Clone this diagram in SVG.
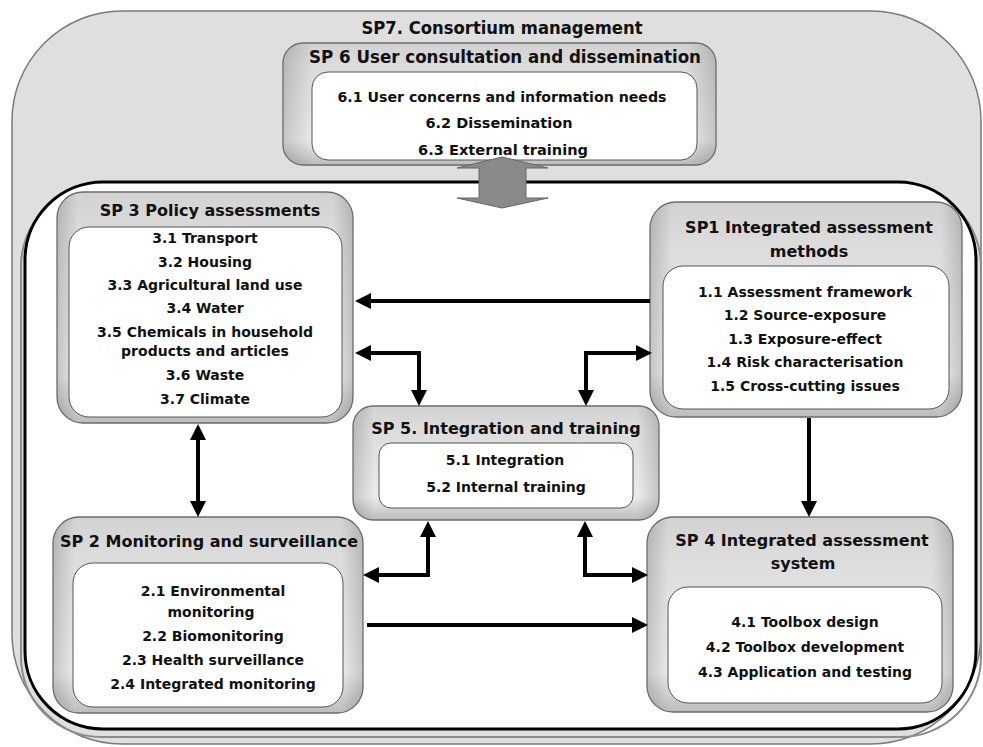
<svg xmlns="http://www.w3.org/2000/svg" width="983" height="747" viewBox="0 0 983 747">
<defs>
<linearGradient id="gv" x1="0" y1="0" x2="0" y2="1">
<stop offset="0" stop-color="#d2d2d2"/>
<stop offset="0.2" stop-color="#dcdcdc"/>
<stop offset="0.8" stop-color="#ebebeb"/>
<stop offset="1" stop-color="#bcbcbc"/>
</linearGradient>
<linearGradient id="gh" x1="0" y1="0" x2="1" y2="0">
<stop offset="0" stop-color="#000" stop-opacity="0.16"/>
<stop offset="0.07" stop-color="#000" stop-opacity="0"/>
<stop offset="0.93" stop-color="#000" stop-opacity="0"/>
<stop offset="1" stop-color="#000" stop-opacity="0.16"/>
</linearGradient>
<marker id="ah" viewBox="0 0 16 16" refX="6" refY="8" markerWidth="16" markerHeight="16" markerUnits="userSpaceOnUse" orient="auto-start-reverse">
<path d="M0,0 L16,8 L0,16 z" fill="#000"/>
</marker>
<style>
.ob{fill:url(#gv);stroke:none}
.ov{fill:url(#gh);stroke:#6b6b6b;stroke-width:1.3}
.ib{fill:#fff;stroke:#555;stroke-width:1}
text{font-family:"DejaVu Sans","Verdana",sans-serif;font-weight:bold;fill:#111;text-anchor:middle}
.t{font-size:16px}
.i{font-size:14px}
.c{font-family:"DejaVu Sans Condensed","Liberation Sans Narrow","DejaVu Sans",sans-serif;font-stretch:condensed}
.ct{font-size:17px}
.ci{font-size:14px}
.ln{fill:none;stroke:#000;stroke-width:4}
</style>
</defs>

<g id="sp7">
<rect x="12" y="11" width="969" height="733" rx="110" ry="110" fill="#dfdfdf" stroke="#7a7a7a" stroke-width="1.5"/>
<text class="c ct" x="502" y="34" textLength="281" lengthAdjust="spacingAndGlyphs">SP7.  Consortium management</text>
</g>

<g id="main-area">
<rect x="21" y="186" width="960" height="551" rx="80" ry="80" fill="none" stroke="#8c8c8c" stroke-width="2"/>
<rect x="25" y="182" width="951" height="547" rx="78" ry="78" fill="#fff" stroke="#000" stroke-width="3"/>
</g>

<g id="sp6">
<rect class="ob" x="283" y="43" width="433" height="122" rx="20"/>
<rect class="ov" x="283" y="43" width="433" height="122" rx="20"/>
<rect class="ib" x="312" y="72" width="385" height="88" rx="16"/>
<text class="c ct" x="505" y="63" textLength="392" lengthAdjust="spacingAndGlyphs">SP 6  User consultation and dissemination</text>
<text class="c ci" x="502" y="102" textLength="329" lengthAdjust="spacingAndGlyphs">6.1 User concerns and information needs</text>
<text class="c ci" x="499" y="128" textLength="147" lengthAdjust="spacingAndGlyphs">6.2 Dissemination</text>
<text class="c ci" x="503" y="155" textLength="170" lengthAdjust="spacingAndGlyphs">6.3  External training</text>
</g>

<g id="sp3">
<rect class="ob" x="57" y="192" width="296" height="231" rx="26"/>
<rect class="ov" x="57" y="192" width="296" height="231" rx="26"/>
<rect class="ib" x="69" y="227" width="273" height="190" rx="20"/>
<text class="t" x="210" y="216">SP 3 Policy assessments</text>
<text class="i" x="205" y="243">3.1 Transport</text>
<text class="i" x="205" y="267">3.2 Housing</text>
<text class="i" x="205" y="290">3.3 Agricultural land use</text>
<text class="i" x="205" y="313">3.4 Water</text>
<text class="i" x="205" y="337">3.5 Chemicals in household</text>
<text class="i" x="205" y="356">products and articles</text>
<text class="i" x="205" y="380">3.6 Waste</text>
<text class="i" x="205" y="404">3.7 Climate</text>
</g>

<g id="sp1">
<rect class="ob" x="650" y="202" width="312" height="215" rx="26"/>
<rect class="ov" x="650" y="202" width="312" height="215" rx="26"/>
<rect class="ib" x="663" y="266" width="286" height="143" rx="20"/>
<text class="t" x="809" y="233">SP1 Integrated assessment</text>
<text class="t" x="809" y="257">methods</text>
<text class="i" x="805" y="297">1.1 Assessment framework</text>
<text class="i" x="805" y="320">1.2 Source-exposure</text>
<text class="i" x="805" y="344">1.3 Exposure-effect</text>
<text class="i" x="805" y="367">1.4 Risk characterisation</text>
<text class="i" x="805" y="391">1.5 Cross-cutting issues</text>
</g>

<g id="sp5">
<rect class="ob" x="353" y="406" width="306" height="114" rx="20"/>
<rect class="ov" x="353" y="406" width="306" height="114" rx="20"/>
<rect class="ib" x="379" y="443" width="254" height="65" rx="12"/>
<text class="t" x="506" y="434">SP 5. Integration and training</text>
<text class="i" x="505" y="465">5.1  Integration</text>
<text class="i" x="506" y="492">5.2  Internal training</text>
</g>

<g id="sp2">
<rect class="ob" x="53" y="517" width="310" height="196" rx="26"/>
<rect class="ov" x="53" y="517" width="310" height="196" rx="26"/>
<rect class="ib" x="73" y="563" width="270" height="144" rx="20"/>
<text class="t" x="209" y="547">SP 2 Monitoring and surveillance</text>
<text class="i" x="213" y="596">2.1  Environmental</text>
<text class="i" x="211" y="617">monitoring</text>
<text class="i" x="213" y="641">2.2 Biomonitoring</text>
<text class="i" x="213" y="665">2.3 Health surveillance</text>
<text class="i" x="213" y="689">2.4 Integrated monitoring</text>
</g>

<g id="sp4">
<rect class="ob" x="647" y="517" width="306" height="195" rx="26"/>
<rect class="ov" x="647" y="517" width="306" height="195" rx="26"/>
<rect class="ib" x="668" y="587" width="274" height="116" rx="20"/>
<text class="t" x="802" y="546">SP 4 Integrated assessment</text>
<text class="t" x="803" y="569">system</text>
<text class="i" x="805" y="627">4.1  Toolbox design</text>
<text class="i" x="805" y="652">4.2 Toolbox development</text>
<text class="i" x="805" y="677">4.3 Application and testing</text>
</g>

<g id="connectors">
<polygon points="502,157 548,168 526,168 526,198 548,198 502,208 457,198 479,198 479,168 457,168" fill="#8a8a8a" stroke="#666" stroke-width="1"/>
<path class="ln" d="M650 301 H365" marker-end="url(#ah)"/>
<path class="ln" d="M365 353 H419 V396" marker-start="url(#ah)" marker-end="url(#ah)"/>
<path class="ln" d="M642 353 H586 V396" marker-start="url(#ah)" marker-end="url(#ah)"/>
<path class="ln" d="M198 434 V507" marker-start="url(#ah)" marker-end="url(#ah)"/>
<path class="ln" d="M809 418 V507" marker-end="url(#ah)"/>
<path class="ln" d="M428 531 V575 H373" marker-start="url(#ah)" marker-end="url(#ah)"/>
<path class="ln" d="M585 531 V575 H638" marker-start="url(#ah)" marker-end="url(#ah)"/>
<path class="ln" d="M367 625 H638" marker-end="url(#ah)"/>
</g>
</svg>
